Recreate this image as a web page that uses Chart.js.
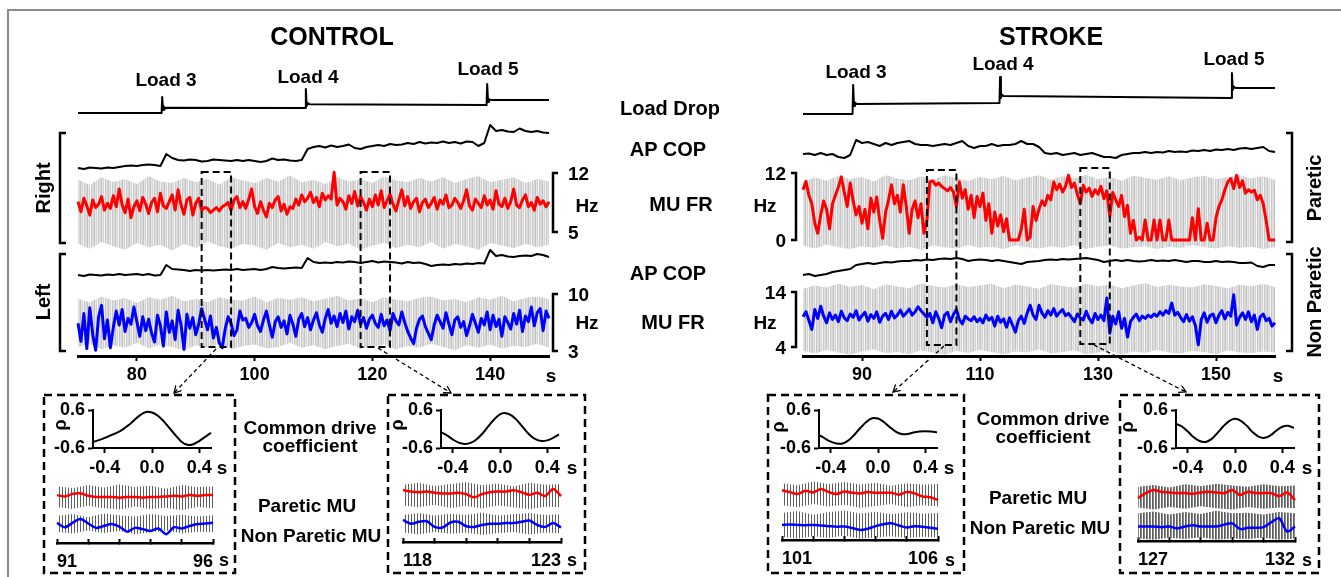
<!DOCTYPE html>
<html>
<head>
<meta charset="utf-8">
<script src="https://cdn.jsdelivr.net/npm/chart.js@4.4.1/dist/chart.umd.min.js"></script>
<style>
  body { margin: 0; width: 1341px; height: 577px; overflow: hidden; position: relative; background: #fff;
         font-family: "Liberation Sans", Arial, sans-serif; font-weight: bold; color: #000; }
  canvas { position: absolute; }
  .lbl { position: absolute; white-space: nowrap; line-height: 1; transform: translate(-50%, -50%); z-index: 3; }
  #ov { position: absolute; left: 0; top: 0; z-index: 2; }
</style>
</head>
<body>
<svg id="ov" width="1341" height="577"></svg>
<script>
// ---- time axes (s) ----
const controlRange = [70, 150];
const strokeRange = [80, 160];
const controlTicks = [80, 100, 120, 140];
const strokeTicks = [90, 110, 130, 150];

// ---- load drop (a.u.) ----
const loadTimeControl = [70, 84.2, 84.3, 84.45, 84.6, 84.8, 85.2, 108.6, 108.7, 108.85, 109, 109.3, 139.4, 139.5, 139.65, 139.8, 140.1, 150];
const loadControl = [7, 7, 23, 10, 13.5, 11.5, 12.3, 12, 31, 14, 17, 15.8, 15, 36, 18, 21, 20, 20];
const loadTimeStroke = [80, 88.4, 88.5, 88.65, 88.8, 89.1, 113.3, 113.4, 113.55, 113.7, 114, 152.6, 152.7, 152.85, 153, 153.3, 160];
const loadStroke = [6, 6, 35, 14, 17.5, 16, 17, 43, 22, 25.5, 24, 22, 47, 30, 33.5, 32, 32];

// ---- AP COP (mm), one sample per second ----
const copRightControl = [
  3.5, 3, 3.75, 3.5, 3.25, 3.75, 3.5, 4, 4.5, 4.75,
  4.5, 5, 5.25, 5, 4.5, 10.5, 8.5, 7.5, 7.25, 7.75,
  7.5, 6.75, 7, 7.75, 7.5, 7.25, 7, 7.5, 7, 7.5,
  7, 6.5, 7, 8.25, 7.5, 7.75, 7.25, 7, 7.5, 13,
  14, 14.5, 13.75, 14.75, 14, 14.5, 15.25, 13.5, 13, 14,
  14.5, 15, 14.5, 15.5, 15, 15.25, 16, 15.5, 16.5, 15.75,
  16.25, 16, 16.75, 16, 16.5, 15.75, 16.75, 16.5, 14.5, 16,
  25, 22, 22.5, 21.75, 21.5, 23.25, 22, 21.5, 22, 21.25,
  21];
const copLeftControl = [
  2.5, 2, 2.75, 2.5, 2.25, 2.75, 2.5, 3, 2.5, 2.75,
  3, 2.5, 3, 2.25, 2.5, 7.5, 5.5, 5.25, 5, 4.5,
  5, 4.75, 5, 4.75, 5, 5.25, 5, 5.5, 5, 5.25,
  5.5, 5, 5.5, 6.5, 6, 5.75, 6, 6.25, 6, 11,
  9, 8.5, 8.75, 8.5, 9, 8.75, 9.25, 9, 8.5, 9,
  9.5, 8.75, 9.25, 9, 8.75, 8.25, 9, 8.5, 8.75, 8,
  7, 7.5, 7.75, 7.5, 8, 7.75, 8.25, 8, 8.5, 8.25,
  15, 12, 12.5, 11.75, 11.5, 12, 12.25, 12, 13, 12.5,
  11.5];
const copPareticStroke = [
  5.5, 5.75, 5, 6, 5, 5.5, 4, 3.5, 5, 12.5,
  11, 11.5, 10.5, 9.5, 11, 10, 11, 11.5, 12, 10.5,
  10, 10, 9.5, 10, 10.5, 10, 11, 12, 9.5, 8.5,
  9.5, 9.5, 10.5, 9.5, 10, 10, 10.5, 12, 10.5, 10.5,
  9, 6, 5.5, 6, 5, 5.5, 6, 5, 5.5, 6,
  5, 4, 4, 3.5, 5, 5.5, 6, 6, 6.5, 6,
  6.5, 6.25, 7, 6.5, 6.75, 6.5, 7.25, 7, 7.5, 7,
  7.75, 7.5, 8, 7.5, 8.25, 8.5, 8, 8.5, 9, 7,
  6.5];
const copNonPareticStroke = [
  2.5, 3, 2, 2.5, 3, 4, 4.5, 5, 5.5, 7.5,
  8, 8.5, 8, 8.5, 9, 8.75, 9.25, 9.5, 9.5, 10,
  9.75, 10.25, 10, 10.5, 10.75, 10.5, 11, 10.5, 9.5, 10,
  10.25, 10, 9.5, 10, 9.5, 9, 8.5, 8, 9, 9.25,
  9.5, 10, 10.25, 10, 10.5, 10.25, 10.5, 10.75, 11, 10.5,
  10, 9, 9.5, 10, 9.5, 10, 9.5, 9.25, 9.5, 10,
  9.5, 9.75, 9.5, 10, 9.5, 9, 9.5, 9.5, 9, 9,
  9.5, 9, 9.25, 9, 8.5, 8.5, 8.75, 7, 6.5, 7.5,
  7.5];

// ---- MU firing rate (Hz), one sample every 0.5 s ----
const fireRightControl = [
  8.6, 7.4, 9.0, 8.1, 7.0, 8.8, 7.9, 8.3, 9.2, 7.6,
  8.4, 7.8, 9.3, 8.0, 10.1, 8.2, 7.3, 8.9, 6.7, 8.0,
  8.7, 7.5, 9.1, 8.3, 7.2, 8.5, 9.0, 7.4, 9.6, 8.1,
  7.8, 8.6, 9.4, 7.6, 10.0, 8.2, 7.1, 8.8, 9.1, 7.0,
  8.4, 9.0, 7.6, 7.9, 7.8, 7.3, 7.6, 7.9, 7.5, 8.0,
  8.2, 8.5, 7.6, 8.8, 9.2, 7.9, 8.6, 7.8, 8.9, 10.1,
  8.0, 7.2, 8.6, 7.6, 6.8, 8.4, 7.9, 8.8, 9.2, 7.5,
  8.3, 7.1, 8.0, 7.8, 8.9, 8.2, 9.4, 8.6, 9.0, 9.7,
  8.5, 9.1, 8.0, 9.6, 8.8, 9.3, 8.9, 12.1, 8.2, 9.0,
  8.6, 7.7, 9.3, 8.4, 9.8, 8.1, 9.2, 8.5, 7.6, 8.9,
  8.0, 9.4, 8.2, 9.9, 7.9, 8.7, 9.5, 8.3, 7.5, 8.8,
  10.0, 8.1, 9.2, 7.8, 8.6, 9.0, 7.4, 8.5, 8.9, 7.9,
  8.4, 9.1, 7.7, 8.8, 8.3, 9.4, 7.9, 8.2, 9.0, 8.5,
  7.8, 8.7, 10.0, 8.1, 7.6, 8.9, 8.4, 7.9, 9.3, 8.2,
  8.8, 7.7, 9.9, 8.3, 8.0, 9.0, 7.8, 8.6, 10.1, 8.2,
  7.9, 8.8, 9.4, 8.0, 8.5, 7.6, 9.1, 8.3, 8.7, 8.0,
  8.6];
const fireLeftControl = [
  6.4, 4.2, 7.6, 3.3, 8.3, 5.0, 3.1, 7.2, 8.6, 4.5,
  6.8, 3.4, 5.9, 7.9, 6.2, 8.1, 5.4, 7.0, 6.3, 8.4,
  6.6, 4.8, 7.2, 5.5, 6.9, 5.2, 4.1, 7.4, 6.1, 3.6,
  7.8, 5.3, 6.7, 4.4, 8.0, 6.2, 3.2, 7.5, 5.8, 7.1,
  5.0, 6.3, 8.2, 6.9, 5.6, 7.3, 4.6, 5.9, 4.0, 3.4,
  5.7, 7.2, 6.4, 4.9, 5.6, 7.9, 6.8, 7.0, 5.9, 6.5,
  7.5, 6.1, 5.4, 6.8, 7.9, 6.2, 4.7, 6.6, 7.2, 5.9,
  6.7, 5.1, 7.4, 6.3, 4.8, 6.9, 7.6, 6.0, 7.1, 5.6,
  6.8, 7.7, 6.2, 5.3, 7.0, 8.1, 6.4, 7.3, 6.0, 7.6,
  6.5, 7.9, 5.7, 7.2, 6.6, 8.0, 6.3, 7.1, 5.8, 6.9,
  7.4, 6.4, 5.9, 7.5, 6.1, 6.8, 5.5, 7.6, 6.7, 6.2,
  7.8, 6.5, 5.4, 4.6, 3.9, 5.8, 6.9, 7.3, 6.0, 5.2,
  4.4, 6.2, 7.4, 6.6, 5.8, 7.7, 6.3, 5.0, 6.8, 7.2,
  5.9, 6.6, 4.9, 6.1, 7.5, 6.4, 5.3, 7.0, 6.2, 7.8,
  5.6, 7.4, 6.0, 6.9, 4.8, 7.2, 6.5, 5.7, 7.6, 6.3,
  8.0, 5.4, 7.3, 6.6, 8.4, 6.1, 7.7, 8.2, 5.5, 7.9,
  7.0];
const firePareticStroke = [
  9.0, 10.5, 8.0, 6.5, 3.0, 1.2, 4.5, 7.0, 5.5, 2.0,
  6.5, 8.0, 9.5, 11.3, 8.5, 6.0, 10.2, 7.0, 4.5, 6.0,
  3.0, 5.5, 2.0, 7.5, 5.0, 7.7, 3.5, 0.3, 5.0, 7.2,
  9.9, 6.5, 8.0, 5.0, 9.9, 6.0, 1.2, 5.5, 7.0, 4.0,
  6.5, 1.2, 3.5, 10.4, 10.6, 9.8, 10.2, 9.6, 9.2, 8.8,
  9.4, 8.6, 6.0, 10.4, 7.5, 9.0, 5.5, 8.0, 4.0, 7.8,
  6.0, 8.4, 3.5, 6.5, 1.2, 5.0, 2.5, 4.5, 1.5, 3.8,
  0, 0, 0, 0, 2.0, 5.5, 0, 0.5, 6.0, 3.5,
  5.5, 7.0, 6.2, 8.0, 7.2, 10.4, 9.0, 10.0, 8.6, 9.6,
  11.6, 9.4, 10.2, 8.2, 6.5, 9.8, 8.6, 9.3, 7.8, 9.0,
  8.2, 9.6, 7.4, 8.8, 4.2, 8.5, 7.2, 6.0, 8.0, 4.2,
  6.2, 1.2, 3.5, 0, 0.5, 0, 3.6, 0, 0, 3.6,
  0, 3.6, 0, 0, 3.6, 0, 0, 0, 0, 0,
  0, 0, 4.0, 0, 5.6, 0, 0, 3.0, 0, 0,
  4.0, 6.0, 7.2, 9.0, 10.4, 11.0, 9.2, 11.6, 9.4, 10.6,
  8.4, 9.0, 8.6, 8.9, 7.2, 8.0, 6.5, 3.5, 0, 0,
  0];
const fireNonPareticStroke = [
  9.5, 10.4, 8.8, 7.2, 10.8, 9.2, 11.4, 9.6, 8.4, 10.2,
  9.0, 9.8, 8.6, 10.5, 9.3, 8.8, 10.0, 9.4, 10.6, 8.9,
  9.7, 10.3, 8.7, 9.9, 9.2, 10.4, 8.5, 9.6, 10.1, 9.0,
  10.5, 9.3, 9.8, 10.7, 9.6, 10.2, 10.9, 9.8, 10.4, 11.3,
  10.6, 10.0, 9.4, 10.1, 8.4, 10.4, 9.2, 7.5, 9.8, 10.3,
  8.6, 9.9, 10.8, 9.0, 8.2, 9.6, 9.1, 8.8, 9.5, 8.6,
  9.2, 8.4, 9.8, 8.9, 9.4, 7.8, 9.6, 8.5, 9.1, 7.6,
  9.3, 8.0, 6.7, 8.8, 9.6, 8.3, 10.2, 11.6, 9.8, 9.0,
  11.6, 10.2, 9.4, 10.6, 9.8, 11.0, 9.6, 10.3, 10.8, 9.7,
  10.1, 9.4, 8.6, 10.0, 9.3, 8.9, 10.5, 9.2, 8.4, 10.1,
  9.0, 9.8, 8.8, 12.9, 6.5, 9.6, 8.2, 10.4, 7.4, 9.2,
  5.8, 8.6, 9.4, 10.0, 8.8, 9.6, 9.2, 9.8, 9.4, 10.0,
  9.6, 10.4, 9.8, 10.6, 10.1, 12.0, 9.8, 10.3, 9.4, 8.6,
  9.9, 8.7, 9.5, 7.9, 4.4, 9.0, 10.2, 8.5, 9.7, 10.0,
  8.4, 9.8, 10.6, 9.1, 10.3, 9.6, 13.5, 8.0, 9.4, 10.2,
  9.0, 10.4, 8.6, 9.8, 7.2, 9.5, 10.0, 8.8, 9.2, 7.8,
  8.4];

// ---- raw MU spike train envelope (Hz scale), every 2 s ----
const spikeTopRightControl = [11.2, 10.6, 11.5, 10.9, 11.3, 10.7, 11.6, 11.0, 10.8, 11.4, 10.9, 11.3, 10.6, 11.5, 11.1, 10.8, 11.4, 11.0, 11.7, 10.9, 11.2, 10.7, 11.5, 11.0, 11.3, 10.8, 11.6, 11.1, 10.9, 11.4, 11.0, 11.5, 10.8, 11.3, 11.6, 10.9, 11.2, 11.5, 10.8, 11.3, 11.0];
const spikeBotRightControl = [3.6, 3.0, 3.8, 3.3, 2.9, 3.7, 3.2, 3.5, 2.8, 3.6, 3.1, 3.9, 3.3, 3.0, 3.6, 3.4, 2.9, 3.7, 3.2, 3.5, 3.0, 3.8, 3.3, 3.6, 2.9, 3.4, 3.7, 3.1, 3.5, 3.2, 3.8, 3.0, 3.6, 3.3, 2.9, 3.7, 3.4, 3.1, 3.6, 3.2, 3.5];
const spikeTopLeftControl = [9.4, 9.0, 9.7, 9.2, 9.5, 8.9, 9.6, 9.3, 9.8, 9.1, 9.4, 9.0, 9.6, 9.3, 9.2, 9.7, 9.0, 9.5, 9.3, 9.6, 9.1, 9.4, 9.8, 9.2, 9.5, 9.0, 9.6, 9.3, 9.1, 9.5, 9.7, 9.2, 9.4, 9.0, 9.6, 9.3, 9.8, 9.1, 9.5, 9.7, 9.4];
const spikeBotLeftControl = [3.5, 3.9, 3.2, 3.7, 3.4, 4.0, 3.3, 3.8, 3.5, 3.1, 3.7, 3.4, 3.9, 3.2, 3.6, 3.8, 3.3, 3.5, 4.0, 3.4, 3.7, 3.2, 3.6, 3.9, 3.3, 3.5, 3.8, 3.2, 3.6, 3.4, 3.9, 3.5, 3.1, 3.7, 3.4, 3.8, 3.3, 3.6, 3.5, 3.9, 3.4];
const spikeTopPareticStroke = [10.4, 11.2, 10.6, 11.5, 10.9, 11.3, 10.5, 11.6, 11.0, 10.7, 11.4, 10.8, 11.6, 11.1, 10.6, 11.3, 10.9, 11.5, 10.7, 11.2, 11.6, 10.8, 11.4, 11.0, 11.7, 10.9, 11.3, 10.6, 11.5, 11.1, 10.8, 11.4, 10.7, 11.2, 11.5, 10.9, 11.3, 11.6, 11.0, 11.4, 10.8];
const spikeBotPareticStroke = [-1.0, -1.5, -0.8, -1.3, -1.6, -1.1, -1.4, -0.9, -1.5, -1.2, -1.7, -1.0, -1.3, -1.5, -0.9, -1.4, -1.2, -1.6, -1.0, -1.3, -1.5, -1.1, -1.4, -0.9, -1.6, -1.2, -1.0, -1.5, -1.3, -1.1, -1.6, -1.2, -1.4, -0.9, -1.3, -1.5, -1.1, -1.4, -1.2, -1.6, -1.3];
const spikeTopNonPareticStroke = [14.6, 15.2, 14.8, 15.5, 14.9, 15.3, 14.5, 15.4, 15.0, 14.7, 15.6, 15.1, 14.8, 15.4, 14.9, 15.2, 15.5, 14.7, 15.3, 15.0, 14.6, 15.4, 15.1, 14.8, 15.5, 15.0, 15.3, 14.7, 15.2, 15.6, 14.9, 15.3, 15.0, 14.8, 15.4, 15.1, 14.7, 15.3, 15.0, 15.5, 14.9];
const spikeBotNonPareticStroke = [3.3, 2.8, 3.5, 3.0, 2.6, 3.2, 3.6, 2.9, 3.1, 2.7, 3.4, 3.0, 2.6, 3.3, 2.9, 3.5, 3.1, 2.7, 3.2, 3.0, 3.6, 2.8, 3.1, 3.4, 2.7, 3.0, 3.3, 2.6, 3.2, 2.9, 3.5, 3.0, 2.8, 3.3, 3.1, 2.7, 3.4, 3.0, 2.9, 3.2, 3.0];

// ---- scale bars (Hz) ----
const scaleRightControl = [5, 12];
const scaleLeftControl = [3, 10];
const scalePareticStroke = [0, 12];
const scaleNonPareticStroke = [4, 14];

// ---- zoomed windows ----
const controlWindows = [[91, 96], [118, 123]];
const strokeWindows = [[101, 106], [127, 132]];
const lags = [-0.5, -0.45, -0.4, -0.35, -0.3, -0.25, -0.2, -0.15, -0.1, -0.05, 0, 0.05, 0.1, 0.15, 0.2, 0.25, 0.3, 0.35, 0.4, 0.45, 0.5];
const lagTicks = [-0.4, 0, 0.4];
const rhoTicks = [-0.6, 0, 0.6];
const rho1 = [-0.41, -0.35, -0.28, -0.2, -0.12, -0.02, 0.12, 0.28, 0.44, 0.54, 0.52, 0.42, 0.24, 0.02, -0.2, -0.4, -0.5, -0.48, -0.38, -0.25, -0.12];
const rho2 = [-0.1, -0.2, -0.33, -0.43, -0.47, -0.44, -0.33, -0.15, 0.08, 0.3, 0.46, 0.5, 0.42, 0.25, 0.03, -0.18, -0.32, -0.38, -0.36, -0.28, -0.17];
const rho3 = [-0.19, -0.3, -0.4, -0.46, -0.46, -0.36, -0.18, 0.03, 0.22, 0.34, 0.33, 0.22, 0.06, -0.08, -0.16, -0.16, -0.11, -0.08, -0.07, -0.08, -0.1];
const rho4 = [0.16, 0.08, -0.08, -0.26, -0.38, -0.41, -0.32, -0.13, 0.08, 0.25, 0.32, 0.26, 0.1, -0.1, -0.24, -0.28, -0.2, -0.05, 0.07, 0.1, 0.03];

// smoothed rates inside the windows (a.u.), every 0.25 s
const insetRed1 = [7.6, 7.4, 7.8, 7.9, 7.5, 7.3, 7.3, 7.3, 7.2, 7.3, 7.3, 7.2, 7.3, 7.3, 7.4, 7.5, 7.4, 7.6, 7.5, 7.6, 7.6];
const insetBlue1 = [3.2, 2.5, 3.2, 3.8, 3.1, 2.4, 2.7, 3.0, 2.6, 1.8, 2.4, 2.2, 1.9, 2.3, 1.4, 2.5, 2.3, 2.7, 3.0, 3.1, 3.2];
const insetRed2 = [8.25, 8.0, 7.9, 8.0, 7.8, 7.7, 7.7, 7.8, 7.6, 7.1, 7.6, 7.9, 8.0, 8.0, 8.2, 7.9, 7.5, 7.8, 7.3, 8.4, 7.3];
const insetBlue2 = [3.5, 2.9, 3.2, 3.3, 2.4, 2.3, 3.1, 3.2, 2.5, 2.4, 2.7, 2.9, 2.9, 3.0, 3.0, 3.2, 3.4, 2.7, 2.4, 3.0, 2.3];
const insetRed3 = [7.9, 7.6, 7.3, 7.8, 7.55, 8.1, 7.6, 7.3, 7.7, 7.5, 7.4, 7.6, 7.5, 7.5, 7.5, 7.2, 7.6, 7.4, 6.9, 6.8, 6.35];
const insetBlue3 = [2.4, 2.45, 2.4, 2.35, 2.4, 2.3, 2.2, 2.1, 2.15, 1.9, 1.6, 1.8, 2.2, 2.5, 2.65, 2.3, 2.0, 2.2, 2.1, 1.95, 1.75];
const insetRed4 = [6.8, 7.6, 8.1, 7.8, 7.7, 7.6, 7.6, 7.5, 7.7, 7.8, 7.7, 7.6, 8.1, 7.3, 7.8, 7.6, 7.6, 7.6, 7.1, 7.7, 6.5];
const insetBlue4 = [2.3, 2.3, 2.3, 2.2, 2.3, 2.0, 2.3, 2.5, 2.3, 2.3, 2.3, 2.6, 2.8, 1.9, 2.1, 2.1, 2.2, 3.0, 3.6, 1.5, 2.3];
// spike envelopes inside the windows (a.u.), every 0.5 s
const insetRedTop1 = [9.0, 8.7, 9.2, 8.8, 9.3, 8.9, 9.1, 8.6, 9.2, 8.9, 9.0];
const insetRedBot1 = [5.7, 5.4, 5.9, 5.5, 5.3, 5.8, 5.4, 5.6, 5.2, 5.7, 5.5];
const insetBlueTop1 = [4.3, 4.6, 4.1, 4.7, 4.4, 4.2, 4.6, 4.3, 4.5, 4.2, 4.4];
const insetBlueBot1 = [1.8, 1.5, 2.0, 1.6, 1.9, 1.4, 1.7, 2.0, 1.5, 1.8, 1.7];
const insetRedTop2 = [9.1, 9.4, 8.9, 9.2, 9.5, 9.0, 9.3, 8.8, 9.4, 9.1, 9.2];
const insetRedBot2 = [5.8, 5.5, 5.9, 5.4, 5.7, 5.3, 5.8, 5.5, 5.2, 5.6, 5.5];
const insetBlueTop2 = [4.3, 4.6, 4.2, 4.5, 4.3, 4.7, 4.2, 4.4, 4.6, 4.3, 4.4];
const insetBlueBot2 = [1.5, 1.2, 1.6, 1.3, 1.5, 1.1, 1.4, 1.6, 1.2, 1.5, 1.4];
const insetRedTop3 = [9.0, 8.7, 9.3, 8.9, 9.2, 8.8, 9.1, 8.6, 9.0, 8.8, 8.9];
const insetRedBot3 = [5.5, 5.2, 5.7, 5.3, 5.6, 5.1, 5.4, 5.7, 5.2, 5.5, 5.3];
const insetBlueTop3 = [4.3, 4.6, 4.0, 4.4, 4.7, 4.2, 4.5, 4.1, 4.4, 4.2, 4.3];
const insetBlueBot3 = [0.5, 0.2, 0.6, 0.3, 0.7, 0.2, 0.4, 0.6, 0.3, 0.5, 0.4];
const insetRedTop4 = [8.6, 8.9, 8.5, 9.0, 8.7, 9.1, 8.8, 8.6, 9.0, 8.7, 8.8];
const insetRedBot4 = [5.3, 5.0, 5.4, 5.1, 5.5, 5.2, 5.0, 5.4, 5.1, 5.3, 5.2];
const insetBlueTop4 = [4.4, 4.7, 4.2, 4.6, 4.3, 4.8, 4.4, 4.5, 4.2, 4.6, 4.4];
const insetBlueBot4 = [0.4, 0.2, 0.5, 0.3, 0.6, 0.2, 0.4, 0.3, 0.5, 0.2, 0.4];

// ---------------------------------------------------------------
Chart.defaults.font.family = '"Liberation Sans", Arial, sans-serif';
Chart.defaults.font.size = 18;
Chart.defaults.font.weight = 'bold';
Chart.defaults.color = '#000';

const RED = '#ff0000', BLUE = '#0000ff';
const M = 40; // room round every plot area for labels
const series = (t0, dt, vals) => vals.map((v, i) => ({ x: t0 + i * dt, y: v }));
const pairs = (xs, ys) => xs.map((x, i) => ({ x, y: ys[i] }));

function stripes(cols) {
  const p = document.createElement('canvas');
  p.width = cols.length; p.height = 4;
  const g = p.getContext('2d');
  cols.forEach((c, i) => { g.fillStyle = c; g.fillRect(i, 0, 1, 4); });
  return g.createPattern(p, 'repeat');
}
const greyBand = stripes(['#c2c2c2', '#e8e8e8', '#d2d2d2', '#f4f4f4', '#c8c8c8', '#e0e0e0', '#d8d8d8']);
const spikeInk = stripes(['#5e5e5e', 'rgba(0,0,0,0)', 'rgba(0,0,0,0)']);
const spikeInkDense = stripes(['#5e5e5e', '#858585', 'rgba(0,0,0,0)']);

const line = (data, color, width, tension) => ({ data, borderColor: color, borderWidth: width, pointRadius: 0,
  tension: tension || 0, fill: false, clip: false, borderJoinStyle: 'round' });
const bandTop = (data, pat) => ({ data, borderColor: 'rgba(0,0,0,0)', borderWidth: 1, pointRadius: 0, fill: '+1', backgroundColor: pat, clip: false });
const bandBot = data => ({ data, borderColor: 'rgba(0,0,0,0)', borderWidth: 1, pointRadius: 0, fill: false, clip: false });

const hid = (min, max) => ({ type: 'linear', min, max, display: false });
function calib(vA, pA, vB, pB, top, bottom) {
  const k = (pB - pA) / (vA - vB);
  return hid(vB - (bottom - pB) / k, vA + (pA - top) / k);
}
function timeAxis(range, ticks, opts) {
  const o = opts || {};
  return { type: 'linear', min: range[0], max: range[1],
    afterFit: s => { s.height = M; },
    afterBuildTicks: s => { s.ticks = ticks.map(v => ({ value: v })); },
    border: { display: true, color: '#000', width: o.bw || 3 },
    grid: { drawOnChartArea: false, drawTicks: true, tickLength: o.tl || 5, tickWidth: 2, tickColor: '#000' },
    ticks: { padding: o.pad || 3, maxRotation: 0, autoSkip: false, callback: o.cb, align: o.align || 'center' } };
}
function rhoAxis() {
  return { type: 'linear', min: -0.6, max: 0.6,
    afterFit: s => { s.width = M; },
    afterBuildTicks: s => { s.ticks = rhoTicks.map(v => ({ value: v })); },
    border: { display: true, color: '#000', width: 2 },
    grid: { drawOnChartArea: false, drawTicks: true, tickLength: 5, tickWidth: 2, tickColor: '#000' },
    ticks: { padding: 3, callback: v => (v === 0 ? '' : v.toFixed(1)) } };
}

function addChart(area, x, y, datasets) {
  const [l, t, r, b] = area;
  const c = document.createElement('canvas');
  c.width = r - l + 2 * M; c.height = b - t + 2 * M;
  c.style.left = (l - M) + 'px'; c.style.top = (t - M) + 'px';
  document.body.appendChild(c);
  const pad = { left: y.display === false ? M : 0, right: M, top: M, bottom: x.display === false ? M : 0 };
  return new Chart(c, {
    type: 'line',
    data: { datasets },
    options: { responsive: false, animation: false, devicePixelRatio: 1, events: [],
      layout: { padding: pad },
      plugins: { legend: { display: false }, tooltip: { enabled: false } },
      scales: { x, y } }
  });
}

// ---- CONTROL column ----
const cx = [78, 549];
addChart([cx[0], 80, cx[1], 120], hid(...controlRange), hid(0, 40),
  [line(pairs(loadTimeControl, loadControl), '#000', 2)]);
addChart([cx[0], 120, cx[1], 175], hid(...controlRange), hid(0, 27.5),
  [line(series(70, 1, copRightControl), '#000', 2)]);
const muRC = addChart([cx[0], 164, cx[1], 258], hid(...controlRange), calib(12, 173, 5, 232, 164, 258),
  [line(series(70, 0.5, fireRightControl), RED, 3),
   bandTop(series(70, 2, spikeTopRightControl), greyBand), bandBot(series(70, 2, spikeBotRightControl))]);
addChart([cx[0], 245, cx[1], 280], hid(...controlRange), hid(0, 17.5),
  [line(series(70, 1, copLeftControl), '#000', 2)]);
const muLC = addChart([cx[0], 286, cx[1], 356], timeAxis(controlRange, controlTicks), calib(10, 294, 3, 351, 286, 356),
  [line(series(70, 0.5, fireLeftControl), BLUE, 3),
   bandTop(series(70, 2, spikeTopLeftControl), greyBand), bandBot(series(70, 2, spikeBotLeftControl))]);

// ---- STROKE column ----
const sx = [803, 1275];
addChart([sx[0], 68, sx[1], 120], hid(...strokeRange), hid(0, 52),
  [line(pairs(loadTimeStroke, loadStroke), '#000', 2)]);
addChart([sx[0], 130, sx[1], 165], hid(...strokeRange), hid(0, 17.5),
  [line(series(80, 1, copPareticStroke), '#000', 2)]);
const muPS = addChart([sx[0], 167, sx[1], 252], hid(...strokeRange), calib(12, 173, 0, 240, 167, 252),
  [line(series(80, 0.5, firePareticStroke), RED, 3),
   bandTop(series(80, 2, spikeTopPareticStroke), greyBand), bandBot(series(80, 2, spikeBotPareticStroke))]);
addChart([sx[0], 250, sx[1], 280], hid(...strokeRange), hid(0, 15),
  [line(series(80, 1, copNonPareticStroke), '#000', 2)]);
const muNS = addChart([sx[0], 281, sx[1], 356], timeAxis(strokeRange, strokeTicks), calib(14, 292, 4, 347, 281, 356),
  [line(series(80, 0.5, fireNonPareticStroke), BLUE, 3),
   bandTop(series(80, 2, spikeTopNonPareticStroke), greyBand), bandBot(series(80, 2, spikeBotNonPareticStroke))]);

// ---- zoomed insets ----
const insets = [
  { win: controlWindows[0], rho: rho1, red: insetRed1, blue: insetBlue1, rt: insetRedTop1, rb: insetRedBot1, bt: insetBlueTop1, bb: insetBlueBot1,
    corr: [93, 410, 211, 448], mu: [57, 480, 213, 543], ink: spikeInk },
  { win: controlWindows[1], rho: rho2, red: insetRed2, blue: insetBlue2, rt: insetRedTop2, rb: insetRedBot2, bt: insetBlueTop2, bb: insetBlueBot2,
    corr: [441, 410, 559, 448], mu: [403, 479, 561, 542], ink: spikeInk },
  { win: strokeWindows[0], rho: rho3, red: insetRed3, blue: insetBlue3, rt: insetRedTop3, rb: insetRedBot3, bt: insetBlueTop3, bb: insetBlueBot3,
    corr: [819, 410, 937, 448], mu: [782, 477, 938, 540], ink: spikeInk },
  { win: strokeWindows[1], rho: rho4, red: insetRed4, blue: insetBlue4, rt: insetRedTop4, rb: insetRedBot4, bt: insetBlueTop4, bb: insetBlueBot4,
    corr: [1176, 410, 1294, 448], mu: [1138, 478, 1295, 541], ink: spikeInkDense },
];
insets.forEach(ins => {
  addChart(ins.corr, timeAxis([-0.5, 0.5], lagTicks, { bw: 2, pad: 4, cb: v => v.toFixed(1) }), rhoAxis(),
    [line(pairs(lags, ins.rho), '#000', 2, 0.35)]);
  const w0 = ins.win[0], w1 = ins.win[1];
  const secs = [];
  for (let s = w0; s <= w1; s++) secs.push(s);
  addChart(ins.mu, timeAxis([w0, w1], secs, { bw: 2.5, tl: -4, pad: 12, align: 'inner',
      cb: (v, i) => (i === 0 || i === secs.length - 1 ? String(v) : '') }), hid(0, 10),
    [line(series(w0, 0.25, ins.red), RED, 2.5, 0.3),
     bandTop(series(w0, 0.5, ins.rt), ins.ink), bandBot(series(w0, 0.5, ins.rb)),
     line(series(w0, 0.25, ins.blue), BLUE, 2.5, 0.3),
     bandTop(series(w0, 0.5, ins.bt), ins.ink), bandBot(series(w0, 0.5, ins.bb))]);
});

// ---- text ----
function label(txt, x, y, size, mode) {
  const d = document.createElement('div');
  d.className = 'lbl';
  d.textContent = txt;
  d.style.left = x + 'px'; d.style.top = y + 'px'; d.style.fontSize = size + 'px';
  if (mode === 'rot') d.style.transform = 'translate(-50%,-50%) rotate(-90deg)';
  if (mode === 'left') d.style.transform = 'translate(0,-50%)';
  if (mode === 'right') d.style.transform = 'translate(-100%,-50%)';
  document.body.appendChild(d);
}
[
  ['CONTROL', 332, 36, 25], ['STROKE', 1051, 36, 25],
  ['Load 3', 166, 79, 19], ['Load 4', 308, 76, 19], ['Load 5', 488, 68, 19],
  ['Load 3', 856, 71, 19], ['Load 4', 1003, 63, 19], ['Load 5', 1234, 58, 19],
  ['Load Drop', 670, 108, 20], ['AP COP', 668, 149, 20], ['MU FR', 681, 204, 20],
  ['AP COP', 668, 273, 20], ['MU FR', 673, 322, 20],
  ['Hz', 587, 205, 19], ['Hz', 587, 322, 19], ['Hz', 765, 205, 19], ['Hz', 765, 322, 19],
  ['s', 551, 375, 19], ['s', 1278, 375, 19],
  ['Common drive', 310, 427, 19], ['coefficient', 310, 445, 19], ['Paretic MU', 307, 505, 19], ['Non Paretic MU', 311, 535, 19],
  ['Common drive', 1043, 418, 19], ['coefficient', 1043, 436, 19], ['Paretic MU', 1038, 497, 19], ['Non Paretic MU', 1040, 527, 19],
  ['s', 222, 467, 19], ['s', 572, 467, 19], ['s', 949, 467, 19], ['s', 1307, 467, 19],
  ['s', 224, 560, 18], ['s', 572, 560, 18], ['s', 950, 560, 18], ['s', 1307, 560, 18],
].forEach(a => label(a[0], a[1], a[2], a[3]));
[['Right', 43, 188], ['Left', 43, 302], ['Paretic', 1314, 188], ['Non Paretic', 1314, 302]]
  .forEach(a => label(a[0], a[1], a[2], 20, 'rot'));
[[60, 425], [397, 425], [778, 427], [1127, 427]].forEach(p => label('ρ', p[0], p[1], 18, 'rot'));

// ---- overlay: frame, brackets, scale bars, dashed boxes, arrows ----
let svg = '<defs><marker id="ah" markerWidth="9" markerHeight="9" refX="7" refY="4" orient="auto" markerUnits="userSpaceOnUse">' +
  '<path d="M0,0 L7,4 L0,8" fill="none" stroke="#000" stroke-width="1.3"/></marker></defs>';
svg += '<path d="M8,577 V10 H1341" fill="none" stroke="#8a8a8a" stroke-width="2"/>';
const br = (x, y0, y1, d) => `<path d="M${x + d},${y0} H${x} V${y1} H${x + d}" fill="none" stroke="#000" stroke-width="2.5"/>`;
svg += br(60, 133, 243, 6) + br(60, 254, 351, 6) + br(1292, 133, 242, -6) + br(1292, 254, 351, -6);

function scaleBar(chart, vals, x, d, tx, mode) {
  const py = v => chart.canvas.offsetTop + chart.scales.y.getPixelForValue(v);
  svg += br(x, py(vals[1]), py(vals[0]), d);
  vals.forEach(v => label(String(v), tx, py(v), 19, mode));
}
scaleBar(muRC, scaleRightControl, 553, 5, 568, 'left');
scaleBar(muLC, scaleLeftControl, 553, 5, 568, 'left');
scaleBar(muPS, scalePareticStroke, 796, -5, 786, 'right');
scaleBar(muNS, scaleNonPareticStroke, 796, -5, 786, 'right');

function windowBox(chart, win, y0, y1) {
  const px = v => chart.canvas.offsetLeft + chart.scales.x.getPixelForValue(v);
  const a = px(win[0]), b = px(win[1]);
  svg += `<rect x="${a}" y="${y0}" width="${b - a}" height="${y1 - y0}" fill="none" stroke="#000" stroke-width="2" stroke-dasharray="7 4"/>`;
}
windowBox(muLC, controlWindows[0], 172, 347);
windowBox(muLC, controlWindows[1], 172, 347);
windowBox(muNS, strokeWindows[0], 170, 345);
windowBox(muNS, strokeWindows[1], 168, 344);

[[44, 395, 235, 573], [388, 395, 585, 573], [768, 395, 964, 573], [1120, 395, 1319, 573]].forEach(b => {
  svg += `<rect x="${b[0]}" y="${b[1]}" width="${b[2] - b[0]}" height="${b[3] - b[1]}" fill="none" stroke="#000" stroke-width="2.5" stroke-dasharray="8 5"/>`;
});
[[216, 349, 174, 393], [378, 348, 451, 393], [944, 346, 893, 392], [1094, 345, 1186, 392]].forEach(a => {
  svg += `<line x1="${a[0]}" y1="${a[1]}" x2="${a[2]}" y2="${a[3]}" stroke="#000" stroke-width="1.3" stroke-dasharray="4 3" marker-end="url(#ah)"/>`;
});
document.getElementById('ov').innerHTML = svg;
</script>
</body>
</html>
